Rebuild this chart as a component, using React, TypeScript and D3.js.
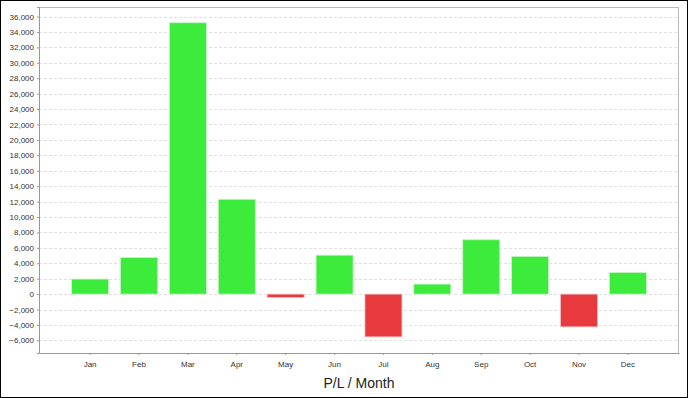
import { useEffect, useRef } from "react";
import * as d3 from "d3";

const months = ["Jan", "Feb", "Mar", "Apr", "May", "Jun", "Jul", "Aug", "Sep", "Oct", "Nov", "Dec"];
const profit = [1950, 4750, 35200, 12300, -450, 5050, -5550, 1300, 7050, 4880, -4250, 2800];
const yTicks = d3.range(-6000, 36001, 2000);
const yDomain = [-7640, 37240];

const width = 688;
const height = 398;
const margin = { top: 7, right: 9, bottom: 45, left: 39 };

export default function App() {
  const svgRef = useRef<SVGSVGElement | null>(null);

  useEffect(() => {
    if (!svgRef.current) return;
    const svg = d3.select(svgRef.current);
    svg.selectAll("*").remove();

    const innerW = width - margin.left - margin.right;
    const innerH = height - margin.top - margin.bottom;

    // outer border
    svg.append("rect")
      .attr("x", 0.5).attr("y", 0.5)
      .attr("width", width - 1).attr("height", height - 1)
      .attr("fill", "#fff").attr("stroke", "#000");

    const g = svg.append("g")
      .attr("transform", `translate(${margin.left},${margin.top})`);

    const x = d3.scaleBand()
      .domain(months)
      .range([0, innerW])
      .paddingInner(0.243)
      .paddingOuter(0.667);

    const y = d3.scaleLinear()
      .domain(yDomain)
      .range([innerH, 0]);

    // grid
    g.selectAll(".grid")
      .data(yTicks)
      .join("line")
      .attr("x1", 0).attr("x2", innerW)
      .attr("y1", d => Math.round(y(d)) + 0.5)
      .attr("y2", d => Math.round(y(d)) + 0.5)
      .attr("stroke", "#e0e0e0")
      .attr("stroke-dasharray", "3,2");

    // bars
    g.selectAll(".bar")
      .data(profit)
      .join("rect")
      .attr("x", (_, i) => x(months[i]) || 0)
      .attr("y", d => y(Math.max(0, d)))
      .attr("width", x.bandwidth())
      .attr("height", d => Math.abs(y(d) - y(0)))
      .attr("fill", d => (d >= 0 ? "#3deb3d" : "#e8393e"))
      .attr("stroke", d => (d >= 0 ? "#c8f3c8" : "#f0c4c4"))
      .attr("stroke-width", 0.8);

    // frame
    g.append("rect")
      .attr("x", 0.5).attr("y", 0.5)
      .attr("width", innerW - 1).attr("height", innerH)
      .attr("fill", "none").attr("stroke", "#bbb");

    // y axis
    const yAxis = g.append("g")
      .call(d3.axisLeft(y).tickValues(yTicks).tickSize(2).tickPadding(3).tickFormat(d3.format(",")));
    yAxis.select(".domain").attr("stroke", "#999");
    yAxis.selectAll(".tick line").attr("stroke", "#999");
    yAxis.selectAll("text")
      .attr("font-family", "Liberation Sans, Arial, sans-serif")
      .attr("font-size", "8px")
      .attr("fill", "#333");

    // x axis
    const xAxis = g.append("g")
      .attr("transform", `translate(0,${innerH})`)
      .call(d3.axisBottom(x).tickSize(2).tickPadding(6).tickSizeOuter(0));
    xAxis.select(".domain").attr("stroke", "#999");
    xAxis.selectAll(".tick line").attr("stroke", "#999");
    xAxis.selectAll("text")
      .attr("font-family", "Liberation Sans, Arial, sans-serif")
      .attr("font-size", "8px")
      .attr("fill", "#333");

    // axis title
    g.append("text")
      .attr("x", innerW / 2)
      .attr("y", innerH + 35)
      .attr("text-anchor", "middle")
      .attr("font-family", "Liberation Sans, Arial, sans-serif")
      .attr("font-size", "14px")
      .attr("fill", "#222")
      .text("P/L / Month");
  }, []);

  return (
    <svg
      ref={svgRef}
      width={width}
      height={height}
      style={{ position: "absolute", left: 0, top: 0 }}
    />
  );
}
